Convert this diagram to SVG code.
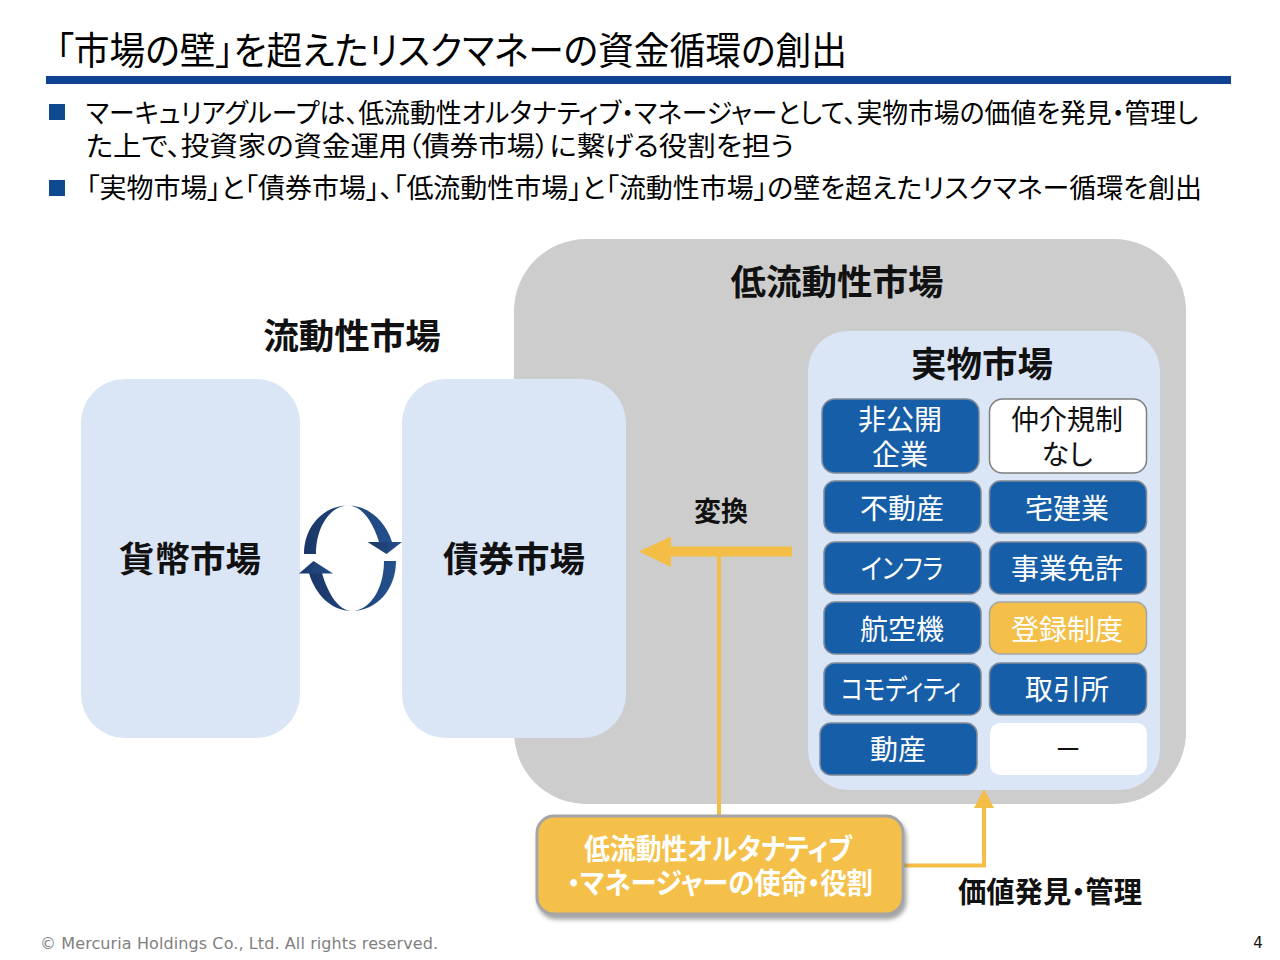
<svg xmlns="http://www.w3.org/2000/svg" width="1280" height="960" viewBox="0 0 1280 960">
<style>
text{font-family:"Noto Sans CJK JP","Noto Sans",sans-serif;font-feature-settings:"palt"}
.t{fill:#000}
.body{font-size:27px;fill:#000}
.big{font-size:35.5px;font-weight:700;fill:#111;text-anchor:middle}
.cell{font-size:28px;fill:#fff;text-anchor:middle}
.blue{fill:#175ea8;stroke:#7f8a99;stroke-width:1.5}
.w{fill:#fff;stroke:#7f7f7f;stroke-width:1.5}
.o{fill:#f4c04a;stroke:#a5a5a5;stroke-width:1.5}
.lb{fill:#dae5f5}
.sq{fill:#0f4a90}
.ln{fill:none;stroke:#f4bd45;stroke-width:4}
</style>
<defs>
<linearGradient id="g" x1="0" y1="0" x2="1" y2="0"><stop offset="0" stop-color="#1b3768"/><stop offset="1" stop-color="#23508c"/></linearGradient>
<filter id="sh" x="-5%" y="-10%" width="110%" height="125%"><feDropShadow dx="2" dy="4" stdDeviation="2" flood-color="#555" flood-opacity=".55"/></filter>
</defs>
<rect width="1280" height="960" fill="#fff"/>
<g id="header">
<text class="t" x="56" y="64" font-size="38" textLength="791" lengthAdjust="spacingAndGlyphs">「市場の壁」を超えたリスクマネーの資金循環の創出</text>
<rect x="46" y="76" width="1185" height="8" fill="#0f4392"/>
<rect class="sq" x="49" y="104" width="16" height="16"/>
<text class="body" x="86" y="123" textLength="1112" lengthAdjust="spacingAndGlyphs">マーキュリアグループは、低流動性オルタナティブ・マネージャーとして、実物市場の価値を発見・管理し</text>
<text class="body" x="86" y="156" textLength="708" lengthAdjust="spacingAndGlyphs">た上で、投資家の資金運用（債券市場）に繋げる役割を担う</text>
<rect class="sq" x="49" y="180" width="16" height="16"/>
<text class="body" x="86" y="198" textLength="1116" lengthAdjust="spacingAndGlyphs">「実物市場」と「債券市場」、「低流動性市場」と「流動性市場」の壁を超えたリスクマネー循環を創出</text>
</g>
<g id="low-liquidity-market">
<rect x="514" y="239" width="672" height="565" rx="72" fill="#cdcdcd"/>
<text class="big" x="837" y="295">低流動性市場</text>
</g>
<g id="real-market">
<rect class="lb" x="808" y="331" width="352" height="459" rx="40"/>
<text class="big" x="982" y="377">実物市場</text>
</g>
<g id="liquid-label"><text class="big" x="352" y="349">流動性市場</text></g>
<g id="money-market">
<rect class="lb" x="81" y="379" width="219" height="359" rx="44"/>
<text class="big" x="190" y="572">貨幣市場</text>
</g>
<g id="bond-market">
<rect class="lb" x="402" y="379" width="224" height="359" rx="44"/>
<text class="big" x="514" y="572">債券市場</text>
</g>
<g id="cycle" fill="url(#g)">
<path d="M304,554C304,526 324,505.500 348,505.500C369,505.500 386,522 392,542L379,542C373,522 362,505.500 348,505.500C331,505.500 316,526 316,554Z"/>
<path d="M367.500,542L402,542L386.500,554Z"/>
<path d="M396,561C396,590 376,611 352,611C331,611 315,594 309,573L322,573C328,594 339,611 352,611C369,611 384,590 384,561Z"/>
<path d="M299,573.500L333,573.500L313.500,561Z"/>
</g>
<g id="connectors">
<path class="ln" d="M719,816V552"/>
<path d="M792,551.500H668" fill="none" stroke="#f4bd45" stroke-width="10"/>
<path d="M639,551.500L671,536.500V567Z" fill="#f4bd45"/>
<path class="ln" d="M903,865.500H984V805"/>
<path d="M984,789L994,808H974Z" fill="#f4bd45"/>
</g>
<g id="label-convert"><text x="721" y="521" font-size="27" font-weight="700" fill="#111" text-anchor="middle">変換</text></g>
<g id="n1"><rect class="blue" x="822" y="399" width="157" height="74" rx="13"/><text class="cell" x="900" y="430">非公開</text><text class="cell" x="900" y="465">企業</text></g>
<g id="n2"><rect class="w" x="989.500" y="399" width="157" height="74" rx="13"/><text class="cell" x="1067" y="430" style="fill:#111">仲介規制</text><text class="cell" x="1067" y="465" style="fill:#111">なし</text></g>
<g id="n3"><rect class="blue" x="824" y="481" width="157" height="52" rx="11"/><text class="cell" x="902" y="519">不動産</text></g>
<g id="n4"><rect class="blue" x="989.500" y="481" width="157" height="52" rx="11"/><text class="cell" x="1067" y="519">宅建業</text></g>
<g id="n5"><rect class="blue" x="824" y="542" width="157" height="52" rx="11"/><text class="cell" x="902" y="579" textLength="82" lengthAdjust="spacingAndGlyphs">インフラ</text></g>
<g id="n6"><rect class="blue" x="989.500" y="542" width="157" height="52" rx="11"/><text class="cell" x="1067" y="579">事業免許</text></g>
<g id="n7"><rect class="blue" x="824" y="602" width="157" height="52" rx="11"/><text class="cell" x="902" y="640">航空機</text></g>
<g id="n8"><rect class="o" x="989.500" y="602" width="157" height="52" rx="11"/><text class="cell" x="1067" y="640">登録制度</text></g>
<g id="n9"><rect class="blue" x="824" y="663" width="157" height="52" rx="11"/><text class="cell" x="901" y="700" textLength="120" lengthAdjust="spacingAndGlyphs">コモディティ</text></g>
<g id="n10"><rect class="blue" x="989.500" y="663" width="157" height="52" rx="11"/><text class="cell" x="1067" y="700">取引所</text></g>
<g id="n11"><rect class="blue" x="820" y="723" width="157" height="52" rx="11"/><text class="cell" x="898" y="760">動産</text></g>
<g id="n12"><rect x="990" y="723" width="157" height="52" rx="10" fill="#fff"/><text class="cell" x="1068" y="760" style="fill:#111">－</text></g>
<g id="mission">
<rect class="o" x="537" y="816" width="366" height="98" rx="17" style="stroke-width:3" filter="url(#sh)"/>
<text x="718" y="860" font-size="29" font-weight="700" fill="#fff" text-anchor="middle" textLength="268" lengthAdjust="spacingAndGlyphs">低流動性オルタナティブ</text>
<text x="720" y="894" font-size="29" font-weight="700" fill="#fff" text-anchor="middle" textLength="306" lengthAdjust="spacingAndGlyphs">・マネージャーの使命・役割</text>
</g>
<g id="label-value"><text x="1050" y="903" font-size="29" font-weight="700" fill="#111" text-anchor="middle" textLength="184" lengthAdjust="spacingAndGlyphs">価値発見・管理</text></g>
<g id="footer">
<text x="40" y="949" font-size="16" fill="#7f7f7f" style="font-family:'DejaVu Sans',sans-serif" textLength="398">© Mercuria Holdings Co., Ltd. All rights reserved.</text>
<text x="1258" y="948" font-size="15" fill="#111" text-anchor="middle" style="font-family:'DejaVu Sans',sans-serif">4</text>
</g>
</svg>
